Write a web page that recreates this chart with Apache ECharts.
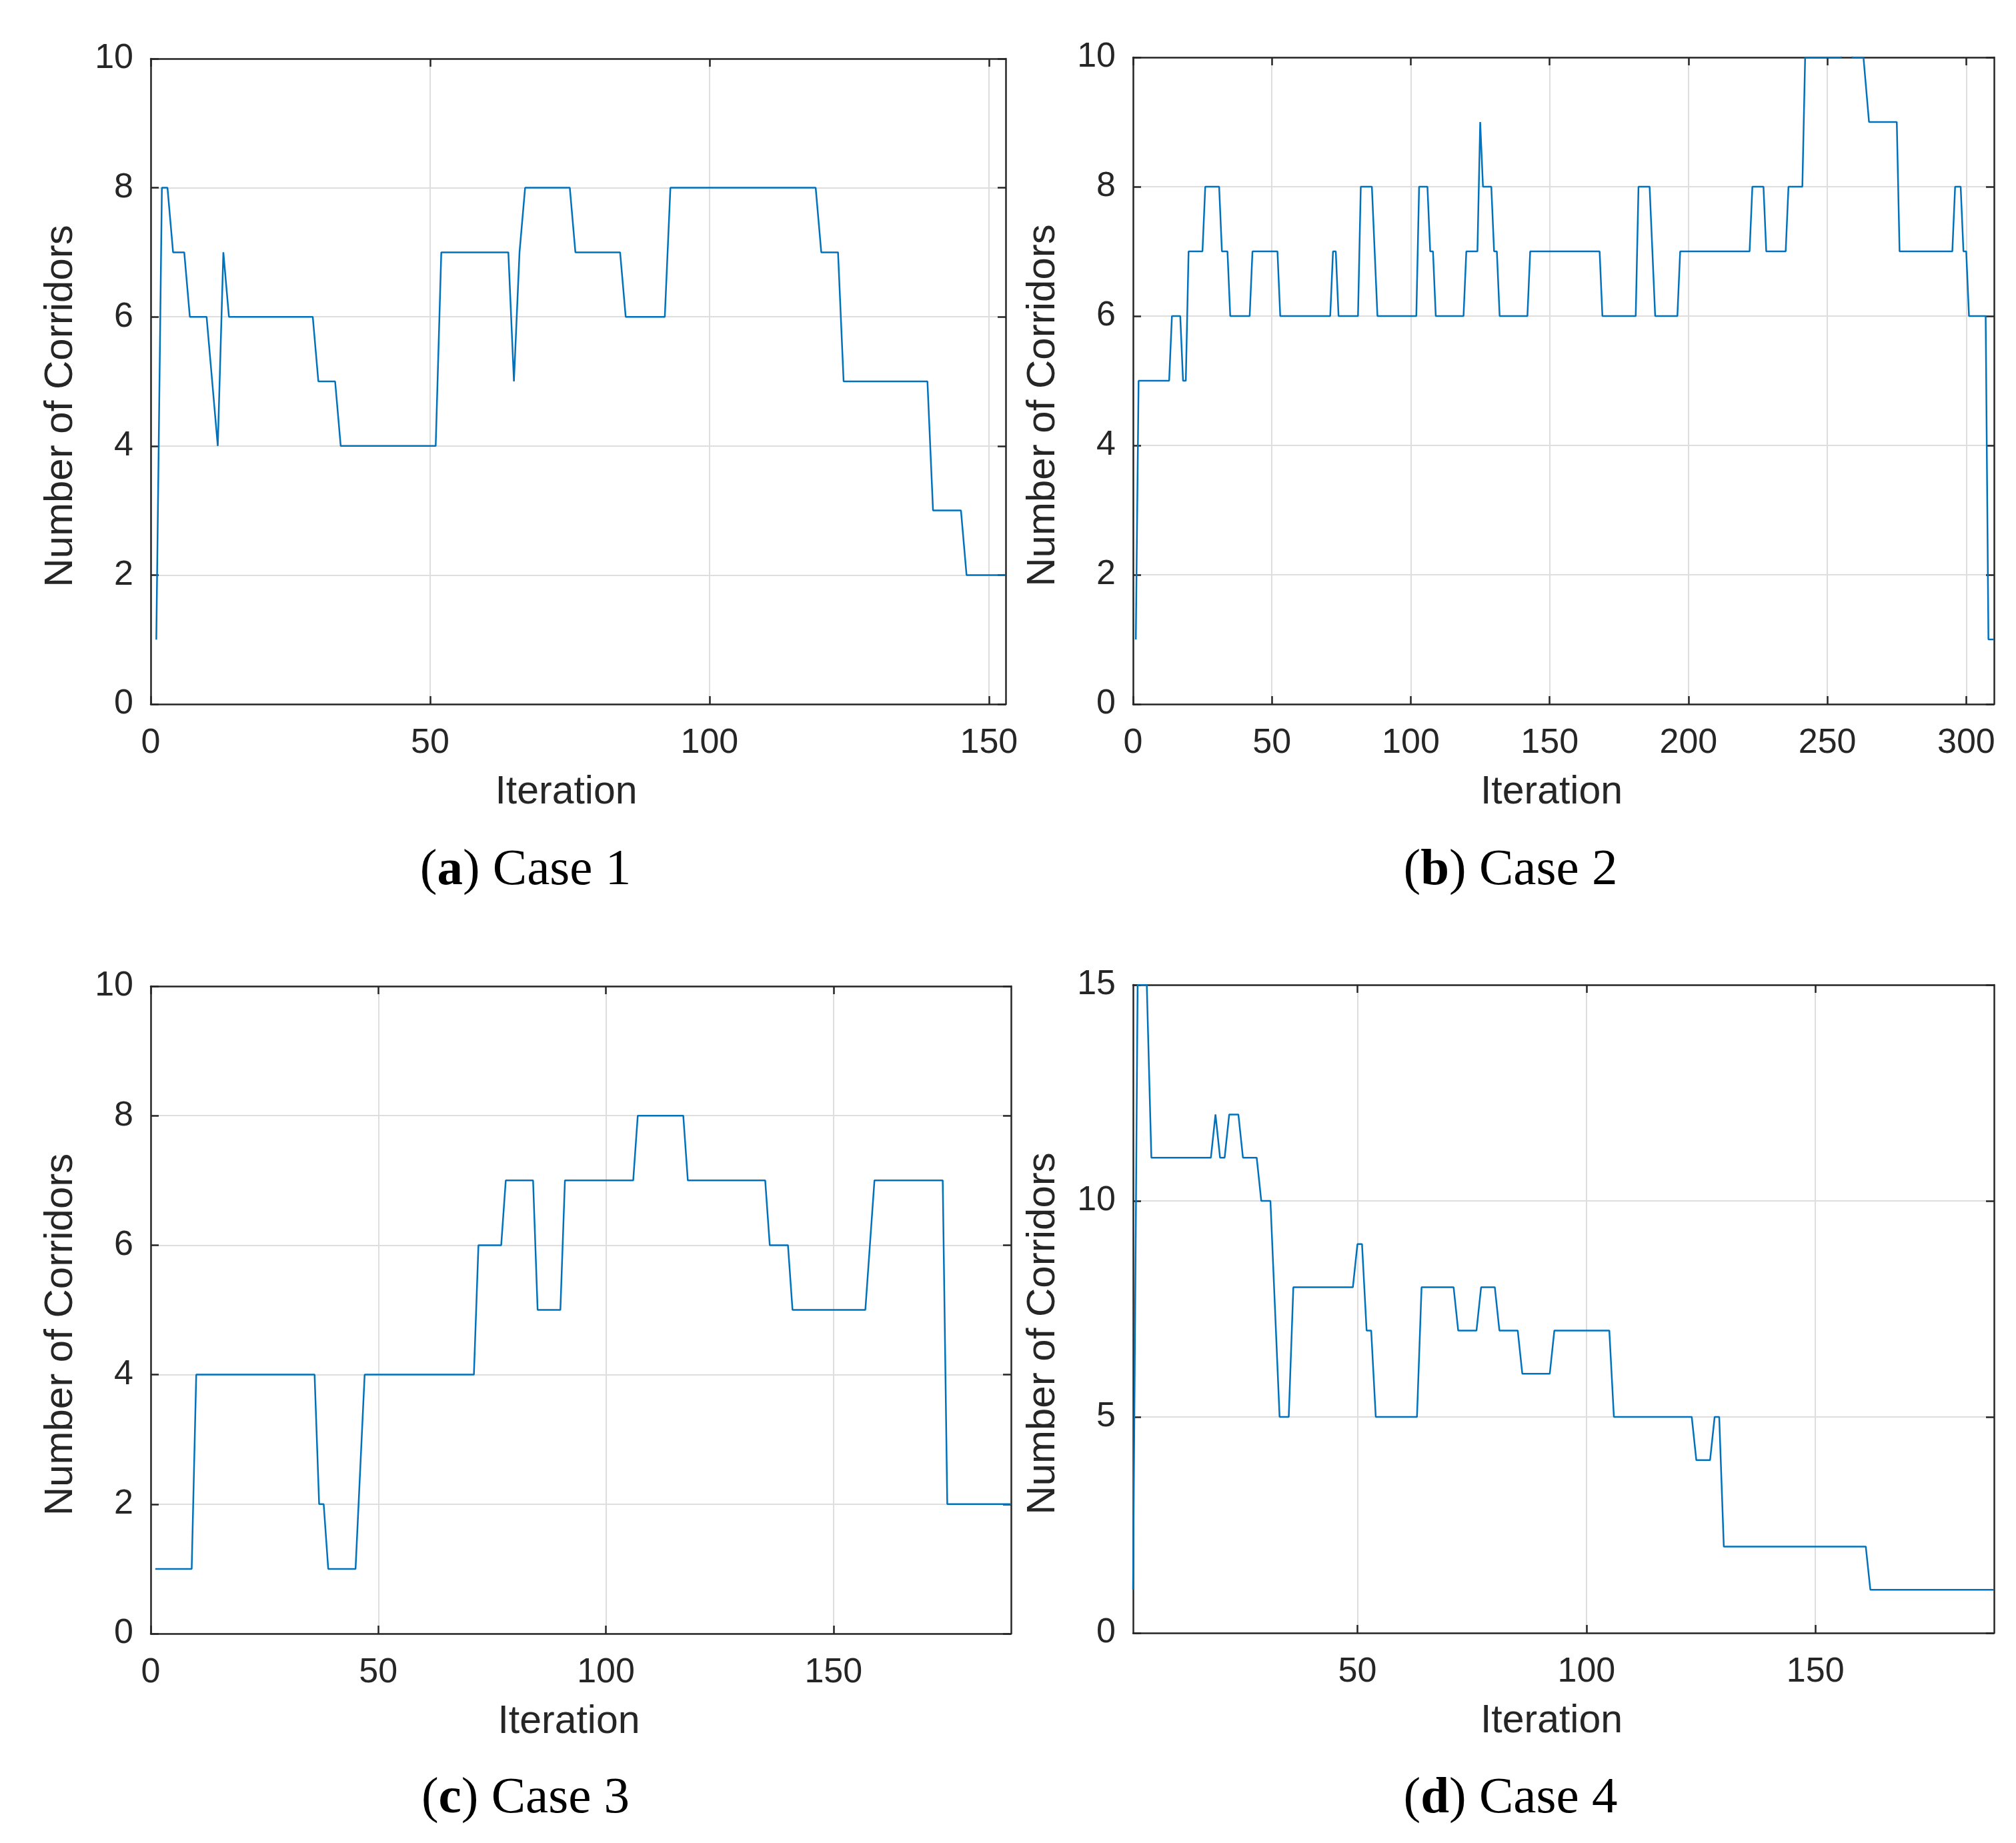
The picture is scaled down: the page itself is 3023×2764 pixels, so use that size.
<!DOCTYPE html>
<html>
<head>
<meta charset="utf-8">
<script src="https://cdn.jsdelivr.net/npm/echarts@6/dist/echarts.min.js"></script>
<style>
html, body { margin: 0; padding: 0; background: #fff; }
#container { width: 3023px; height: 2764px; }
</style>
</head>
<body>
<div id="container"></div>
<script>
// breakpoints (iteration, number of corridors)
var iterCase1 = [1, 2, 3, 4, 6, 7, 10, 11, 12, 13, 14, 29, 30, 33, 34, 51, 52, 64, 65, 66, 67, 75, 76, 84, 85, 92, 93, 119, 120, 123, 124, 139, 140, 145, 146, 153];
var corrCase1 = [1, 8, 8, 7, 7, 6, 6, 5, 4, 7, 6, 6, 5, 5, 4, 4, 7, 7, 5, 7, 8, 8, 7, 7, 6, 6, 8, 8, 7, 7, 5, 5, 3, 3, 2, 2];

var iterCase2 = [1, 2, 13, 14, 17, 18, 19, 20, 25, 26, 31, 32, 34, 35, 42, 43, 52, 53, 71, 72, 73, 74, 81, 82, 86, 88, 102, 103, 106, 107, 108, 109, 119, 120, 124, 125, 126, 129, 130, 131, 132, 142, 143, 168, 169, 181, 182, 186, 188, 196, 197, 222, 223, 227, 228, 235, 236, 241, 242, 255, 256, 258, 259, 263, 265, 275, 276, 295, 296, 298, 299, 300, 301, 307, 308, 310];
var corrCase2 = [1, 5, 5, 6, 6, 5, 5, 7, 7, 8, 8, 7, 7, 6, 6, 7, 7, 6, 6, 7, 7, 6, 6, 8, 8, 6, 6, 8, 8, 7, 7, 6, 6, 7, 7, 9, 8, 8, 7, 7, 6, 6, 7, 7, 6, 6, 8, 8, 6, 6, 7, 7, 8, 8, 7, 7, 8, 8, 10, 10, 11, 11, 10, 10, 9, 9, 7, 7, 8, 8, 7, 7, 6, 6, 1, 1];

var iterCase3 = [1, 9, 10, 36, 37, 38, 39, 45, 47, 71, 72, 77, 78, 84, 85, 90, 91, 106, 107, 117, 118, 135, 136, 140, 141, 157, 159, 174, 175, 189];
var corrCase3 = [1, 1, 4, 4, 2, 2, 1, 1, 4, 4, 6, 6, 7, 7, 5, 5, 7, 7, 8, 8, 7, 7, 6, 6, 5, 5, 7, 7, 2, 2];

var iterCase4 = [1, 2, 4, 5, 18, 19, 20, 21, 22, 24, 25, 28, 29, 31, 33, 35, 36, 49, 50, 51, 52, 53, 54, 63, 64, 71, 72, 76, 77, 80, 81, 85, 86, 92, 93, 105, 106, 123, 124, 127, 128, 129, 130, 161, 162, 189];
var corrCase4 = [1, 15, 15, 11, 11, 12, 11, 11, 12, 12, 11, 11, 10, 10, 5, 5, 8, 8, 9, 9, 7, 7, 5, 5, 8, 8, 7, 7, 8, 8, 7, 7, 6, 6, 7, 7, 5, 5, 4, 4, 5, 5, 2, 2, 1, 1];

var caseLetters = ['a', 'b', 'c', 'd'];
var caseNames = ['Case 1', 'Case 2', 'Case 3', 'Case 4'];
var xTicks = [[0, 50, 100, 150], [0, 50, 100, 150, 200, 250, 300], [0, 50, 100, 150], [50, 100, 150]];
var xMin = [0, 0, 0, 1];
var xMax = [153, 310, 189, 189];
var yMax = [10, 10, 10, 15];
var yStep = [2, 2, 2, 5];

var iters = [iterCase1, iterCase2, iterCase3, iterCase4];
var corrs = [corrCase1, corrCase2, corrCase3, corrCase4];

var dark = '#262626';
var sans = 'Liberation Sans';
var grids = [
    {left: 226, top: 88, width: 1282, height: 968},
    {left: 1699, top: 86, width: 1291, height: 970},
    {left: 226, top: 1479, width: 1290, height: 971},
    {left: 1699, top: 1477, width: 1291, height: 972}
];
var captionPos = [[788, 1306], [2265, 1306], [788, 2698], [2265, 2698]];

var xAxes = [], yAxes = [], series = [], graphics = [];
for (var i = 0; i < 4; i++) {
    grids[i].outerBoundsMode = 'none';
    var lineStyle = {color: dark, width: 2.5};
    xAxes.push({
        type: 'value', gridIndex: i, position: 'bottom',
        min: xMin[i], max: xMax[i],
        name: 'Iteration', nameLocation: 'middle', nameGap: 103,
        nameTextStyle: {fontFamily: sans, fontSize: 59, color: dark, padding: [0, 36, 0, 0]},
        axisLine: {show: true, onZero: false, lineStyle: lineStyle},
        axisTick: {show: true, inside: true, length: 12, customValues: xTicks[i], lineStyle: lineStyle},
        axisLabel: {show: true, customValues: xTicks[i], margin: 33, fontFamily: sans, fontSize: 52, color: dark},
        splitLine: {show: true, lineStyle: {color: '#dedede', width: 2}}
    });
    xAxes.push({
        type: 'value', gridIndex: i, position: 'top',
        min: xMin[i], max: xMax[i],
        axisLine: {show: true, onZero: false, lineStyle: lineStyle},
        axisTick: {show: true, inside: true, length: 12, customValues: xTicks[i], lineStyle: lineStyle},
        axisLabel: {show: false},
        splitLine: {show: false}
    });
    yAxes.push({
        type: 'value', gridIndex: i, position: 'left',
        min: 0, max: yMax[i], interval: yStep[i],
        name: 'Number of Corridors', nameLocation: 'middle', nameGap: 105,
        nameTextStyle: {fontFamily: sans, fontSize: 60, color: dark, padding: [0, 74, 0, 0]},
        axisLine: {show: true, onZero: false, lineStyle: lineStyle},
        axisTick: {show: true, inside: true, length: 12, lineStyle: lineStyle},
        axisLabel: {show: true, margin: 26, fontFamily: sans, fontSize: 52, color: dark},
        splitLine: {show: true, lineStyle: {color: '#dedede', width: 2}}
    });
    yAxes.push({
        type: 'value', gridIndex: i, position: 'right',
        min: 0, max: yMax[i], interval: yStep[i],
        axisLine: {show: true, onZero: false, lineStyle: lineStyle},
        axisTick: {show: true, inside: true, length: 12, lineStyle: lineStyle},
        axisLabel: {show: false},
        splitLine: {show: false}
    });
    var pts = [];
    for (var k = 0; k < iters[i].length; k++) {
        pts.push([iters[i][k], corrs[i][k]]);
    }
    series.push({
        type: 'line', xAxisIndex: 2 * i, yAxisIndex: 2 * i,
        data: pts, showSymbol: false, clip: true,
        lineStyle: {color: '#0072bd', width: 2.5},
        itemStyle: {color: '#0072bd'}
    });
    graphics.push({
        type: 'text', x: captionPos[i][0], y: captionPos[i][1],
        style: {
            text: '{r|(}{b|' + caseLetters[i] + '}{r|) ' + caseNames[i] + '}',
            align: 'center', verticalAlign: 'middle',
            rich: {
                r: {fontFamily: 'Liberation Serif', fontSize: 77, fill: '#000'},
                b: {fontFamily: 'Liberation Serif', fontSize: 77, fontWeight: 'bold', fill: '#000'}
            }
        }
    });
}

var dom = document.getElementById('container');
var myChart = echarts.init(dom, null, {renderer: 'canvas'});
myChart.setOption({
    animation: false,
    backgroundColor: '#fff',
    grid: grids,
    xAxis: xAxes,
    yAxis: yAxes,
    series: series,
    graphic: graphics
});
</script>
</body>
</html>
